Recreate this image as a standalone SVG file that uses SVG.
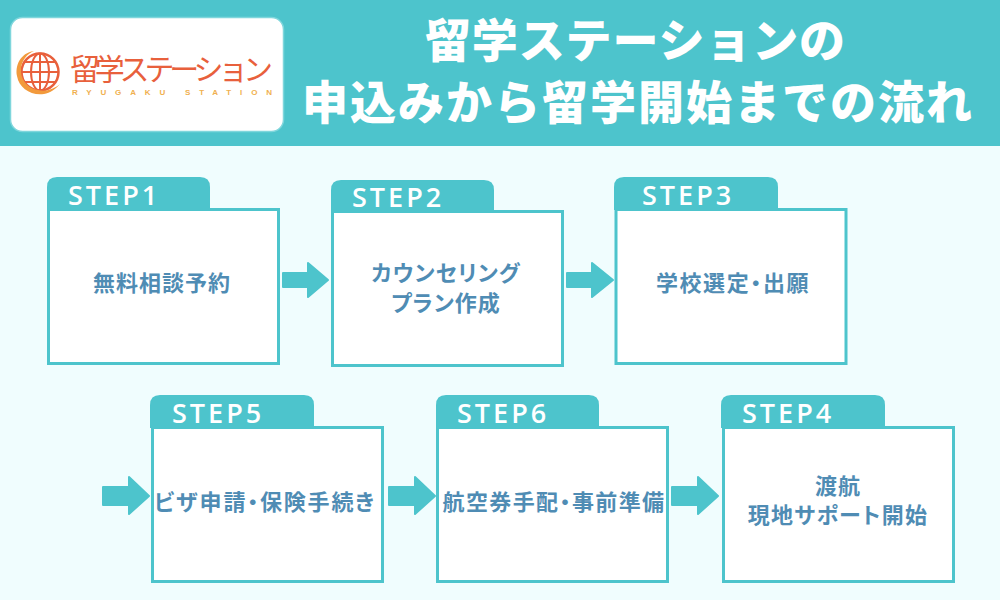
<svg xmlns="http://www.w3.org/2000/svg" width="1000" height="600" viewBox="0 0 1000 600">
<style>
.t{font-family:"Noto Sans CJK JP","Noto Sans",sans-serif}
.h{font-size:46px;font-weight:900;fill:#fff;text-anchor:middle}
.l{font-size:22px;font-weight:700;fill:#4f8cb4;text-anchor:middle;letter-spacing:1px;font-feature-settings:"palt"}
.s{font-family:"Open Sans","Noto Sans",sans-serif;font-size:27px;font-weight:600;fill:#fff;letter-spacing:3px}
.b{fill:#fff;stroke:#4dc4cc;stroke-width:3}
.tab{fill:#4dc4cc}
.a{fill:#4dc4cc;stroke:#4dc4cc;stroke-width:2;stroke-linejoin:round}
</style>
<rect width="1000" height="600" fill="#f0fdfe"/>
<rect width="1000" height="146" fill="#4dc4cc"/>
<g id="logo">
<rect x="10.500" y="17.500" width="273" height="114" rx="12" fill="#fff" stroke="#7fd6dc" stroke-width="1.500"/>
<circle cx="40" cy="72" r="18.500" fill="none" stroke="#e8603c" stroke-width="2.500"/>
<ellipse cx="40" cy="72" rx="9" ry="18.500" fill="none" stroke="#e8603c" stroke-width="2"/>
<path d="M40 53.500V90.500M21.500 72H58.500M24.500 62H55.500M24.500 82H55.500" fill="none" stroke="#e8603c" stroke-width="2"/>
<path d="M34 51C20 53 15 66 17 76C19 88 31 96 44 94C50 93 56 89 60 84C54 89 46 92 38 90C26 88 20 78 21 68C22 60 27 54 34 51Z" fill="#f29a3c"/>
<text class="t" x="70" y="80" font-size="30" font-weight="400" fill="#e8603c" textLength="203">留学ステーション</text>
<text x="72" y="95" font-family="Liberation Sans,sans-serif" font-size="8" font-weight="700" fill="#f0b050" textLength="200">RYUGAKU  STATION</text>
</g>
<g id="title">
<text class="t h" x="635" y="57" textLength="420" lengthAdjust="spacing">留学ステーションの</text>
<text class="t h" x="637" y="119" textLength="670" lengthAdjust="spacing">申込みから留学開始までの流れ</text>
</g>
<g id="connectors">
<path class="a" d="M283 273H308V263L328 280L308 297V287H283Z"/>
<path class="a" d="M567 273H592V263L613 280L592 297V287H567Z"/>
<path class="a" d="M103 487H129V477L149 496L129 514V505H103Z"/>
<path class="a" d="M389 487H415V477L435 496L415 514V505H389Z"/>
<path class="a" d="M672 487H698V477L718 496L698 514V505H672Z"/>
</g>
<g id="step1">
<path class="tab" d="M47 210V187Q47 177 57 177H200Q210 177 210 187V210Z"/>
<rect class="b" x="48.500" y="209.500" width="230" height="154"/>
<text class="s" x="68" y="205">STEP1</text>
<text class="t l" x="162" y="291">無料相談予約</text>
</g>
<g id="step2">
<path class="tab" d="M331 213V190Q331 180 341 180H484Q494 180 494 190V213Z"/>
<rect class="b" x="332.500" y="211.500" width="230" height="154"/>
<text class="s" x="352" y="207">STEP2</text>
<text class="t l" x="446" y="281">カウンセリング</text>
<text class="t l" x="446" y="311">プラン作成</text>
</g>
<g id="step3">
<path class="tab" d="M614 210V187Q614 177 624 177H768Q778 177 778 187V210Z"/>
<rect class="b" x="616" y="209.500" width="230" height="154"/>
<text class="s" x="642" y="205">STEP3</text>
<text class="t l" x="733" y="291" style="letter-spacing:1.600px">学校選定・出願</text>
</g>
<g id="step5">
<path class="tab" d="M150 428V405Q150 395 160 395H304Q314 395 314 405V428Z"/>
<rect class="b" x="152.500" y="427.500" width="230" height="154"/>
<text class="s" x="172" y="423">STEP5</text>
<text class="t l" x="265" y="510" style="letter-spacing:1.800px">ビザ申請・保険手続き</text>
</g>
<g id="step6">
<path class="tab" d="M436 428V405Q436 395 446 395H589Q599 395 599 405V428Z"/>
<rect class="b" x="437.500" y="427.500" width="230" height="154"/>
<text class="s" x="457" y="423">STEP6</text>
<text class="t l" x="554" y="510" style="letter-spacing:1.400px">航空券手配・事前準備</text>
</g>
<g id="step4">
<path class="tab" d="M721 428V405Q721 395 731 395H875Q885 395 885 405V428Z"/>
<rect class="b" x="723.500" y="427.500" width="230" height="154"/>
<text class="s" x="742" y="423">STEP4</text>
<text class="t l" x="838" y="494">渡航</text>
<text class="t l" x="838" y="523" style="letter-spacing:1.300px">現地サポート開始</text>
</g>
</svg>
